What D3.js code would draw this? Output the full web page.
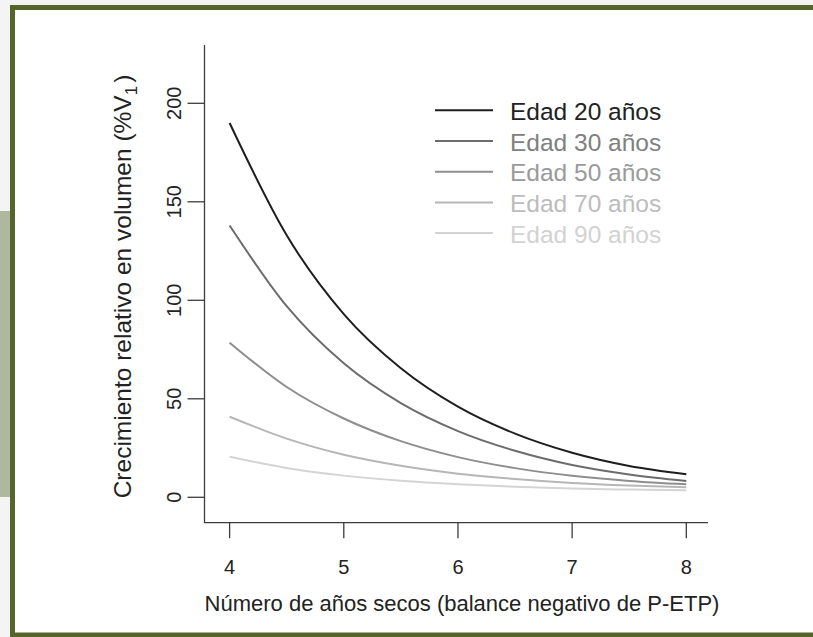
<!DOCTYPE html>
<html>
<head>
<meta charset="utf-8">
<script src="https://cdn.jsdelivr.net/npm/d3@7"></script>
<style>
  body { margin: 0; background: #f4f4f4; }
  svg { display: block; }
  text { font-family: "Liberation Sans", Arial, Helvetica, sans-serif; }
</style>
</head>
<body>
<div id="chart"></div>
<script>
// data
var years = [4, 4.5, 5, 5.5, 6, 6.5, 7, 7.5, 8];
var edad20 = [190, 133, 93, 65.5, 46, 32.3, 22.6, 15.9, 11.7];
var edad30 = [138, 97, 68, 47.8, 33.6, 23.6, 16.4, 11.6, 8.3];
var edad50 = [78.5, 56, 40, 28.5, 20.4, 14.8, 10.9, 8.3, 6.6];
var edad70 = [40.9, 29.8, 21.6, 16, 12, 9.3, 7.3, 6, 5.1];
var edad90 = [20.6, 14.9, 11, 8.4, 6.6, 5.3, 4.4, 3.9, 3.6];
var seriesNames = ["Edad 20 años", "Edad 30 años", "Edad 50 años", "Edad 70 años", "Edad 90 años"];
var xTicks = [4, 5, 6, 7, 8];
var yTicks = [0, 50, 100, 150, 200];

var width = 813, height = 637;
var colors = ["#1e1e1e", "#6c6c6c", "#8e8e8e", "#b6b6b6", "#d4d4d4"];
var textColors = ["#222222", "#808080", "#9a9a9a", "#bcbcbc", "#d2d2d2"];

var svg = d3.select('#chart')
    .append('svg')
    .attr('width', width)
    .attr('height', height);

// frame of the page
svg.append('rect').attr('x', 0).attr('y', 0).attr('width', width).attr('height', height).attr('fill', '#f4f4f4');
svg.append('rect').attr('x', 0).attr('y', 211).attr('width', 10).attr('height', 286).attr('fill', '#adb89e');
svg.append('rect').attr('x', 10).attr('y', 5).attr('width', width - 10).attr('height', 632).attr('fill', '#56652a');
svg.append('rect').attr('x', 15).attr('y', 10).attr('width', width - 15).attr('height', 622.5).attr('fill', '#ffffff');

// scales (axis extent a bit wider than data, like R)
var x = d3.scaleLinear().domain([3.78, 8.19]).range([204.5, 708]);
var y = d3.scaleLinear().domain([-12.9, 229.6]).range([522.7, 45]);

var g = svg.append('g');

// axis lines (bty = "l")
g.append('path')
    .attr('d', 'M' + x(3.78) + ',' + y(229.6) + 'V' + y(-12.9) + 'H' + x(8.19))
    .attr('fill', 'none')
    .attr('stroke', '#3c3c3c')
    .attr('stroke-width', 1.3);

// y ticks
g.selectAll('line.ytick').data(yTicks).enter()
    .append('line')
    .attr('class', 'ytick')
    .attr('x1', x(3.78) - 17)
    .attr('x2', x(3.78))
    .attr('y1', d => y(d))
    .attr('y2', d => y(d))
    .attr('stroke', '#3c3c3c')
    .attr('stroke-width', 1.3);

g.selectAll('text.ylab').data(yTicks).enter()
    .append('text')
    .attr('class', 'ylab')
    .attr('transform', d => 'translate(181,' + y(d) + ') rotate(-90)')
    .attr('text-anchor', 'middle')
    .attr('fill', '#222')
    .style('font-size', '20px')
    .text(d => d);

// x ticks
g.selectAll('line.xtick').data(xTicks).enter()
    .append('line')
    .attr('class', 'xtick')
    .attr('x1', d => x(d))
    .attr('x2', d => x(d))
    .attr('y1', y(-12.9))
    .attr('y2', y(-12.9) + 15.5)
    .attr('stroke', '#3c3c3c')
    .attr('stroke-width', 1.3);

g.selectAll('text.xlab').data(xTicks).enter()
    .append('text')
    .attr('class', 'xlab')
    .attr('x', d => x(d))
    .attr('y', 573.5)
    .attr('text-anchor', 'middle')
    .attr('fill', '#222')
    .style('font-size', '20px')
    .text(d => d);

// axis titles
g.append('text')
    .attr('x', 462)
    .attr('y', 610.5)
    .attr('text-anchor', 'middle')
    .attr('fill', '#222')
    .style('font-size', '22px')
    .text('Número de años secos (balance negativo de P-ETP)');

var yTitle = g.append('text')
    .attr('transform', 'translate(131,286.5) rotate(-90)')
    .attr('text-anchor', 'middle')
    .attr('fill', '#222')
    .style('font-size', '24.5px');
yTitle.append('tspan').text('Crecimiento relativo en volumen (%V');
yTitle.append('tspan').attr('dy', 6).style('font-size', '17px').text('1');
yTitle.append('tspan').attr('dy', -6).attr('dx', 3).text(')');

// curves
var data = [edad20, edad30, edad50, edad70, edad90].map(function(vals, i) {
    return { name: seriesNames[i], values: years.map(function(yr, k) { return { x: yr, y: vals[k] }; }) };
});

var line = d3.line()
    .x(d => x(d.x))
    .y(d => y(d.y))
    .curve(d3.curveMonotoneX);

// draw lightest first so the dark curve sits on top
g.selectAll('path.curve').data(data.slice().reverse()).enter()
    .append('path')
    .attr('class', 'curve')
    .attr('fill', 'none')
    .attr('stroke', d => colors[seriesNames.indexOf(d.name)])
    .attr('stroke-width', 2)
    .attr('d', d => line(d.values));

// legend
var legend = g.selectAll('g.legend').data(seriesNames).enter()
    .append('g')
    .attr('class', 'legend')
    .attr('transform', (d, i) => 'translate(0,' + (110.3 + i * 30.7) + ')');

legend.append('line')
    .attr('x1', 435)
    .attr('x2', 493)
    .attr('stroke', (d, i) => colors[i])
    .attr('stroke-width', 2);

legend.append('text')
    .attr('x', 510)
    .attr('y', 9.5)
    .attr('fill', (d, i) => textColors[i])
    .style('font-size', '24.5px')
    .text(d => d);
</script>
</body>
</html>
